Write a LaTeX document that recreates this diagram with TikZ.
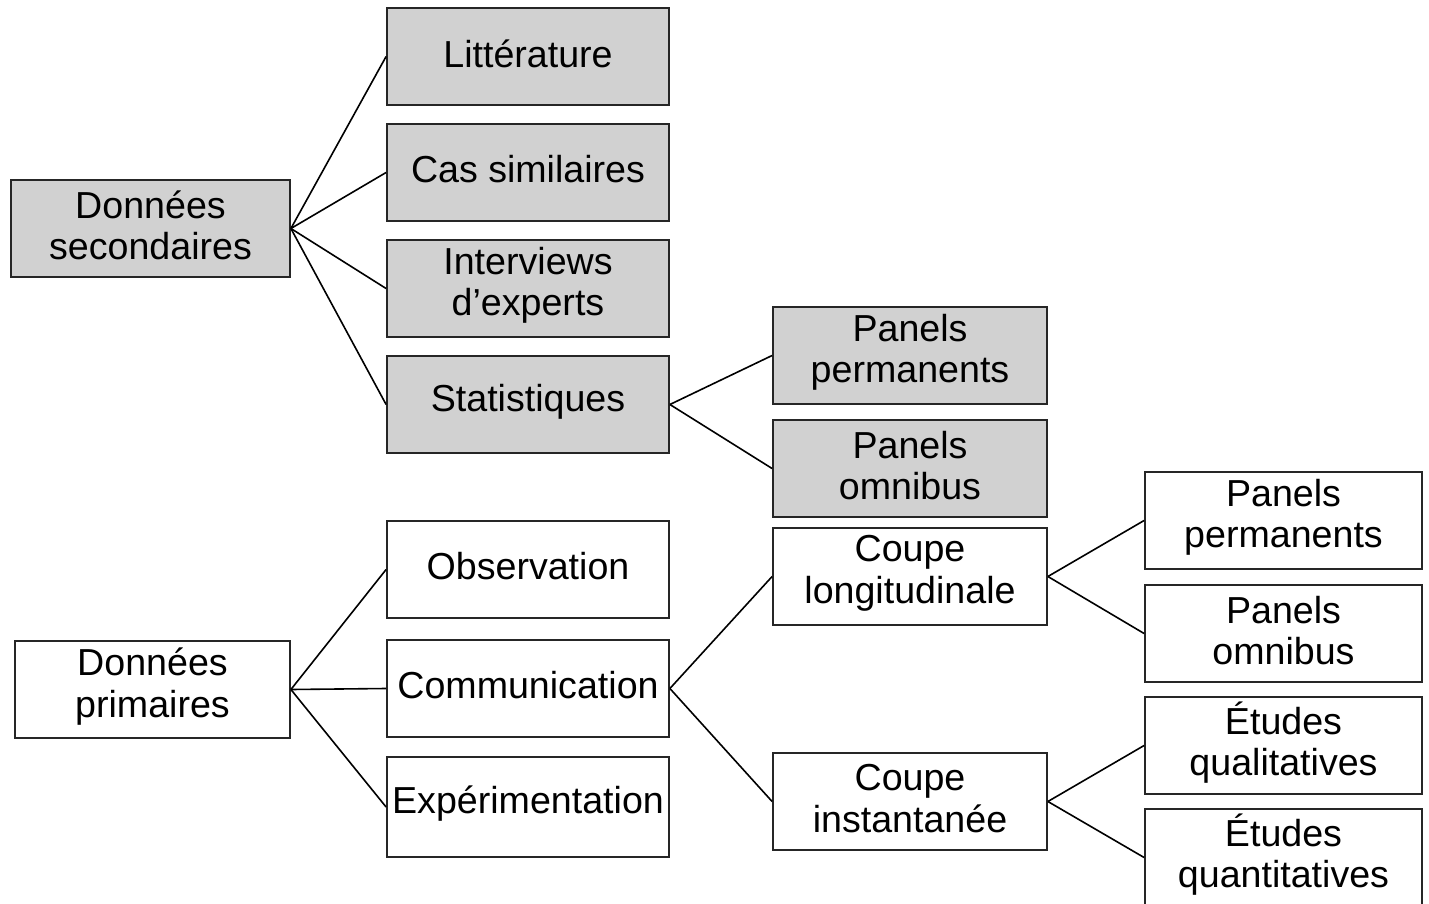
\documentclass[tikz,border=0pt]{standalone}
\usepackage{fontspec}
\setmainfont{Liberation Sans}
\begin{document}
\begin{tikzpicture}[x=1pt,y=-1pt,
  box/.style={draw=black!85, line width=1.8pt, rectangle, inner sep=0pt},
  shaded/.style={box, fill=black!18},
  plain/.style={box, fill=white},
  boxtext/.style={align=center, inner sep=0pt, font=\fontsize{37.6}{41.5}\selectfont},
  link/.style={line width=1.6pt, black}]
\useasboundingbox (0,0) rectangle (1429,904);
% helper: box placed by its corners, its text raised a little
\newcommand{\boxat}[7]{%
  \node[#1, minimum width=#4-#3, minimum height=#6-#5] (#2) at ({(#3+#4)/2},{(#5+#6)/2}) {};
  \node[boxtext] (#2-text) at ([yshift=3pt]#2.center) {#7};}
% secondary data branch
\boxat{shaded}{ds}{11}{290}{180}{277}{Données\\secondaires}
\boxat{shaded}{lit}{387}{669}{8}{105}{Littérature}
\boxat{shaded}{cas}{387}{669}{124}{221}{Cas similaires}
\boxat{shaded}{itw}{387}{669}{240}{337}{Interviews\\d’experts}
\boxat{shaded}{stat}{387}{669}{356}{453}{Statistiques}
\boxat{shaded}{pp1}{773}{1047}{307}{404}{Panels\\permanents}
\boxat{shaded}{po1}{773}{1047}{420}{517}{Panels\\omnibus}
% primary data branch
\boxat{plain}{dp}{15}{290}{641}{738}{Données\\primaires}
\boxat{plain}{obs}{387}{669}{521}{618}{Observation}
\boxat{plain}{com}{387}{669}{640}{737}{Communication}
\boxat{plain}{exp}{387}{669}{757}{857}{Expérimentation}
\boxat{plain}{cl}{773}{1047}{528}{625}{Coupe\\longitudinale}
\boxat{plain}{ci}{773}{1047}{753}{850}{Coupe\\instantanée}
\boxat{plain}{pp2}{1145}{1422}{472}{569}{Panels\\permanents}
\boxat{plain}{po2}{1145}{1422}{585}{682}{Panels\\omnibus}
\boxat{plain}{eql}{1145}{1422}{697}{794}{Études\\qualitatives}
\boxat{plain}{eqt}{1145}{1422}{809}{906}{Études\\quantitatives}
% connectors
\foreach \c in {lit,cas,itw,stat} \draw[link] (ds.east) -- (\c.west);
\foreach \c in {pp1,po1} \draw[link] (stat.east) -- (\c.west);
\foreach \c in {obs,com,exp} \draw[link] (dp.east) -- (\c.west);
\foreach \c in {cl,ci} \draw[link] (com.east) -- (\c.west);
\foreach \c in {pp2,po2} \draw[link] (cl.east) -- (\c.west);
\foreach \c in {eql,eqt} \draw[link] (ci.east) -- (\c.west);
\end{tikzpicture}
\end{document}
